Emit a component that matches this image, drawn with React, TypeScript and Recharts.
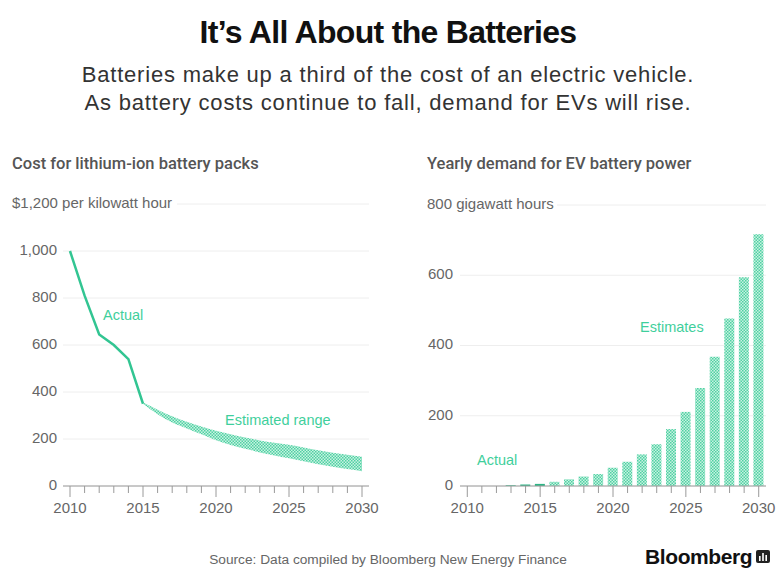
import React from "react";
import {
  ComposedChart,
  BarChart,
  Bar,
  Line,
  Area,
  XAxis,
  YAxis,
  CartesianGrid,
} from "recharts";

// cost for lithium-ion battery packs ($/kWh)
const actualYears = [2010, 2011, 2012, 2013, 2014, 2015];
const actualCost = [1000, 810, 645, 600, 540, 350];
const estYears = [
  2015, 2016, 2017, 2018, 2019, 2020, 2021, 2022, 2023, 2024, 2025, 2026,
  2027, 2028, 2029, 2030,
];
const estLow = [350, 305, 270, 245, 220, 195, 175, 158, 143, 130, 118, 105, 93, 82, 72, 63];
const estHigh = [355, 325, 297, 273, 253, 235, 220, 206, 194, 184, 176, 164, 152, 142, 133, 125];

// yearly demand for EV battery power (GWh)
const demandYears = [
  2010, 2011, 2012, 2013, 2014, 2015, 2016, 2017, 2018, 2019, 2020, 2021,
  2022, 2023, 2024, 2025, 2026, 2027, 2028, 2029, 2030,
];
const demandActual = [0, 0, 0, 2, 4, 6, null, null, null, null, null, null, null, null, null, null, null, null, null, null, null];
const demandEstimate = [null, null, null, null, null, null, 12, 19, 27, 34, 52, 69, 90, 119, 162, 211, 279, 368, 477, 594, 717];

const costTicks = [0, 200, 400, 600, 800, 1000, 1200];
const demandTicks = [0, 200, 400, 600, 800];
const yearTicks = demandYears;

const GREEN = "#32c592";
const LABEL_GREEN = "#3fcf9c";
const FONT = "'Liberation Sans', Arial, sans-serif";

const costData = [...new Set([...actualYears, ...estYears])].map((year) => {
  const a = actualYears.indexOf(year);
  const e = estYears.indexOf(year);
  return {
    year,
    actual: a >= 0 ? actualCost[a] : null,
    range: e >= 0 ? [estLow[e], estHigh[e]] : null,
  };
});

const demandData = demandYears.map((year, i) => ({
  year,
  actual: demandActual[i],
  estimate: demandEstimate[i],
}));

const AXIS_Y = 296; // plot bottom inside each chart

const YearTick = ({ x, payload }: any) => {
  const major = payload.value % 5 === 0;
  return (
    <g>
      <line x1={x} x2={x} y1={AXIS_Y} y2={AXIS_Y + (major ? 11 : 7)} stroke="#9a9a9a" strokeWidth={1} />
      {major && (
        <text x={x} y={AXIS_Y + 23} textAnchor="middle" dominantBaseline="middle" fontSize={15} fill="#666" fontFamily={FONT}>
          {payload.value}
        </text>
      )}
    </g>
  );
};

const makeValueTick =
  (top: number, topLabel: string, rightEdge: number, labelLeft: number, maskW: number) =>
  ({ y, payload }: any) => {
    if (payload.value === top) {
      return (
        <g>
          <rect x={0} y={y - 10} width={maskW} height={20} fill="#fff" />
          <text x={labelLeft} y={y} dominantBaseline="middle" fontSize={15} fill="#666" fontFamily={FONT}>
            {topLabel}
          </text>
        </g>
      );
    }
    return (
      <text x={rightEdge} y={y} textAnchor="end" dominantBaseline="middle" fontSize={15} fill="#666" fontFamily={FONT}>
        {payload.value.toLocaleString("en-US")}
      </text>
    );
  };

const CostTick = makeValueTick(1200, "$1,200 per kilowatt hour", 57, 12, 177);
const DemandTick = makeValueTick(800, "800 gigawatt hours", 53, 27, 157);

const note = (left: number, top: number, text: string) => (
  <div style={{ position: "absolute", left, top, fontSize: 14.5, color: LABEL_GREEN, lineHeight: "16px", whiteSpace: "nowrap" }}>
    {text}
  </div>
);

export default function App() {
  return (
    <div style={{ position: "relative", width: 776, height: 568, background: "#fff", fontFamily: FONT, overflow: "hidden" }}>
      <style>{"body{margin:0}"}</style>
      <div style={{ position: "absolute", left: 0, width: 776, top: 14, textAlign: "center", fontSize: 32, fontWeight: 700, letterSpacing: -0.7, color: "#111", lineHeight: "36px" }}>
        It’s All About the Batteries
      </div>
      <div style={{ position: "absolute", left: 0, width: 776, top: 61, textAlign: "center", fontSize: 22, letterSpacing: 0.8, color: "#333", lineHeight: "28px" }}>
        Batteries make up a third of the cost of an electric vehicle.
        <br />
        As battery costs continue to fall, demand for EVs will rise.
      </div>

      <div style={{ position: "absolute", left: 12, top: 154, fontSize: 16.5, color: "#555", fontWeight: 500, fontFamily: "Roboto, sans-serif" }}>
        Cost for lithium-ion battery packs
      </div>
      <div style={{ position: "absolute", left: 427, top: 154, fontSize: 16.5, color: "#555", fontWeight: 500, fontFamily: "Roboto, sans-serif" }}>
        Yearly demand for EV battery power
      </div>

      <div style={{ position: "absolute", left: 0, top: 190 }}>
        <ComposedChart width={385} height={330} data={costData} margin={{ top: 14, right: 16, bottom: 0, left: 0 }}>
          <defs>
            <pattern id="dotsL" width="3" height="3" patternUnits="userSpaceOnUse">
              <rect width="3" height="3" fill="#c9f2e2" />
              <rect width="1.5" height="1.5" fill="#4fd1a3" />
              <rect x="1.5" y="1.5" width="1.5" height="1.5" fill="#4fd1a3" />
            </pattern>
          </defs>
          <CartesianGrid vertical={false} stroke="#eeeeee" />
          <XAxis
            dataKey="year"
            type="number"
            domain={[2010, 2030]}
            ticks={yearTicks}
            interval={0}
            padding={{ left: 7, right: 7 }}
            height={34}
            axisLine={{ stroke: "#9a9a9a" }}
            tickLine={false}
            tick={<YearTick />}
          />
          <YAxis
            domain={[0, 1200]}
            ticks={costTicks}
            interval={0}
            width={63}
            axisLine={false}
            tickLine={false}
            tick={<CostTick />}
          />
          <Area dataKey="range" type="monotone" stroke="none" fill="url(#dotsL)" fillOpacity={1} isAnimationActive={false} />
          <Line dataKey="actual" type="linear" stroke={GREEN} strokeWidth={2.5} dot={false} isAnimationActive={false} />
        </ComposedChart>
      </div>

      <div style={{ position: "absolute", left: 400, top: 190 }}>
        <BarChart width={376} height={330} data={demandData} margin={{ top: 15, right: 10, bottom: 0, left: 0 }} barSize={10}>
          <defs>
            <pattern id="dotsR" width="3" height="3" patternUnits="userSpaceOnUse">
              <rect width="3" height="3" fill="#c9f2e2" />
              <rect width="1.5" height="1.5" fill="#4fd1a3" />
              <rect x="1.5" y="1.5" width="1.5" height="1.5" fill="#4fd1a3" />
            </pattern>
          </defs>
          <CartesianGrid vertical={false} stroke="#eeeeee" />
          <XAxis
            dataKey="year"
            ticks={yearTicks}
            interval={0}
            height={34}
            axisLine={{ stroke: "#9a9a9a" }}
            tickLine={false}
            tick={<YearTick />}
          />
          <YAxis
            domain={[0, 800]}
            ticks={demandTicks}
            interval={0}
            width={60}
            axisLine={false}
            tickLine={false}
            tick={<DemandTick />}
          />
          <Bar dataKey="actual" stackId="d" fill="#2db585" isAnimationActive={false} />
          <Bar dataKey="estimate" stackId="d" fill="url(#dotsR)" isAnimationActive={false} />
        </BarChart>
      </div>

      {note(103, 307, "Actual")}
      {note(225, 412, "Estimated range")}
      {note(640, 319, "Estimates")}
      {note(477, 452, "Actual")}

      <div style={{ position: "absolute", left: 0, width: 776, top: 552, textAlign: "center", fontSize: 13.7, color: "#666" }}>
        Source: Data compiled by Bloomberg New Energy Finance
      </div>
      <div style={{ position: "absolute", left: 645, top: 545, fontSize: 21, fontWeight: 700, color: "#111", letterSpacing: -0.4, display: "flex", alignItems: "center" }}>
        Bloomberg
        <svg width={14} height={14} style={{ marginLeft: 4 }}>
          <rect x={0} y={0} width={14} height={13} rx={2} fill="#222" />
          <rect x={3} y={6} width={1.6} height={5} fill="#fff" />
          <rect x={6.2} y={3} width={1.6} height={8} fill="#fff" />
          <rect x={9.4} y={5} width={1.6} height={6} fill="#fff" />
        </svg>
      </div>
    </div>
  );
}
